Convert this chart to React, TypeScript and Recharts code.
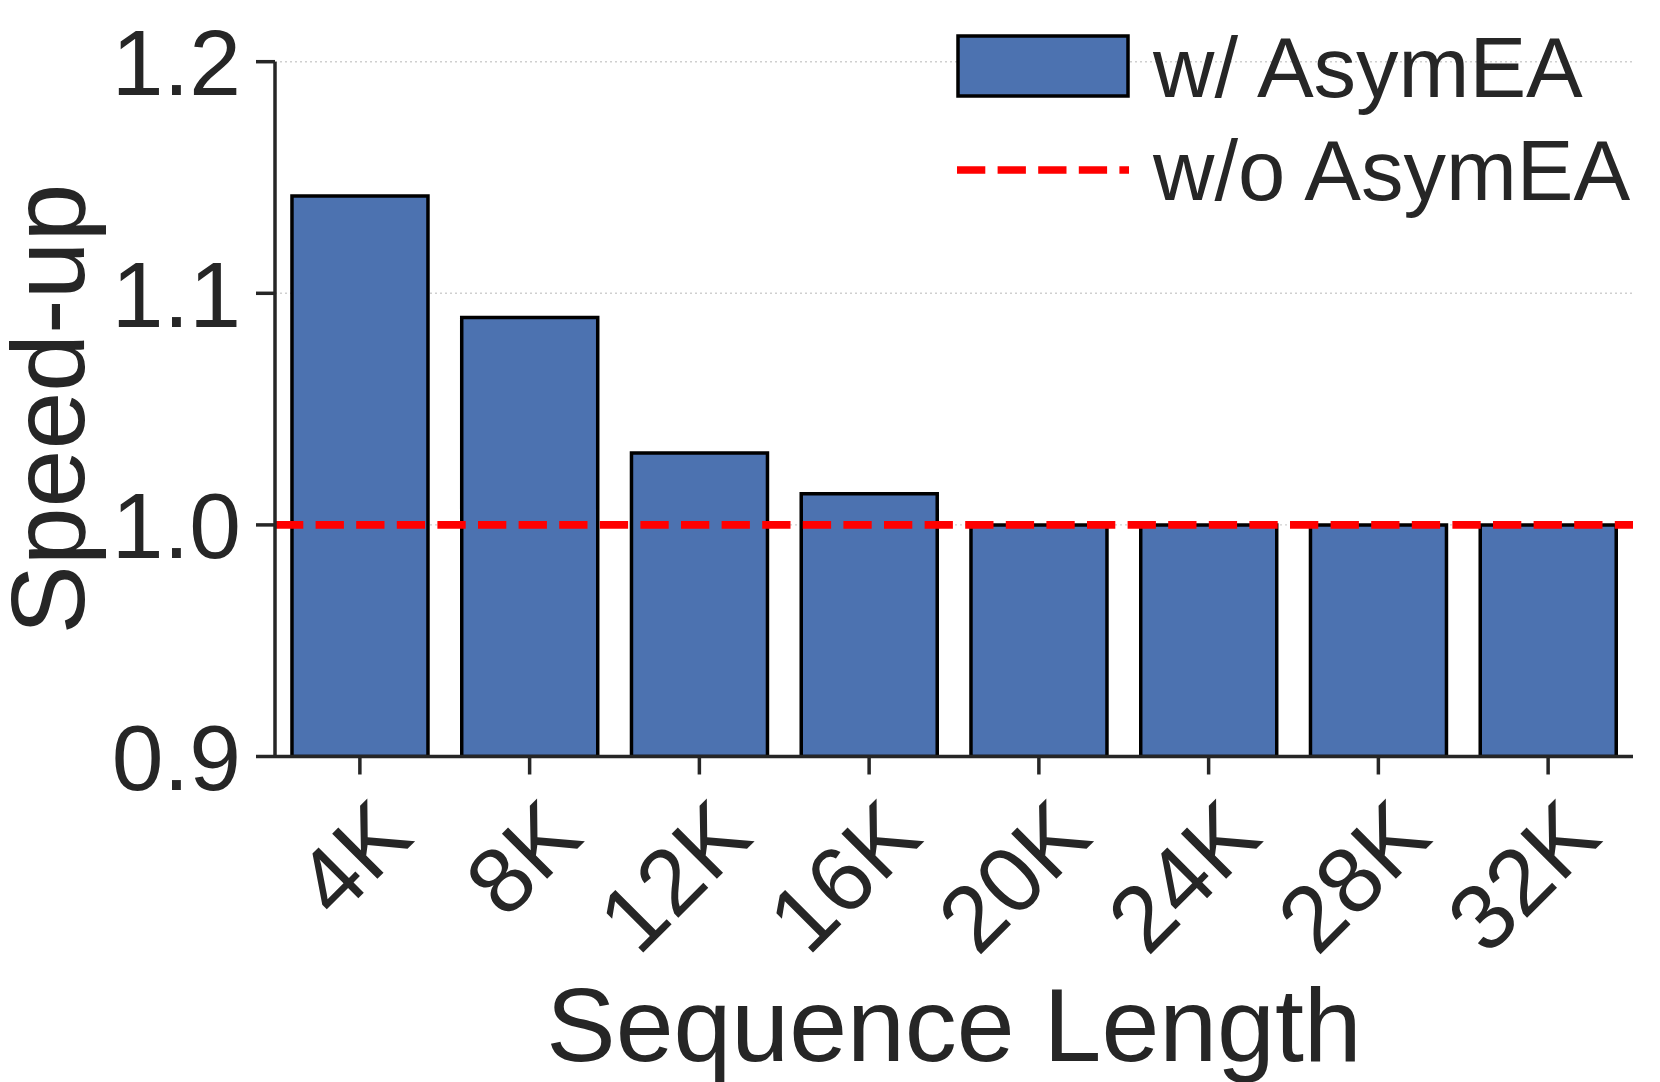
import React from "react";
import { BarChart, Bar, XAxis, YAxis, CartesianGrid, ReferenceLine } from "recharts";

// values
const categories = ["4K", "8K", "12K", "16K", "20K", "24K", "28K", "32K"];
const speedupWith = [1.142, 1.0896, 1.031, 1.0134, 1.0, 1.0, 1.0, 1.0];
const speedupWithout = 1.0;
const yTicks = [0.9, 1.0, 1.1, 1.2];
const seriesNames = ["w/ AsymEA", "w/o AsymEA"];

const data = categories.map((name, i) => ({ name, value: speedupWith[i] }));

const FONT = 'Arial, "Liberation Sans", Helvetica, sans-serif';
const INK = "#262626";
const BLUE = "#4c72b0";

const XTick = ({ x, y, payload }: any) => {
  const ax = x + 56;
  const ay = y + 66;
  return (
    <text
      x={ax}
      y={ay}
      textAnchor="end"
      transform={`rotate(-45, ${ax}, ${ay})`}
      fontFamily={FONT}
      fontSize={93}
      fill={INK}
    >
      {payload.value}
    </text>
  );
};

const YTick = ({ x, y, payload }: any) => (
  <text
    x={x}
    y={y}
    dy="0.36em"
    textAnchor="end"
    fontFamily={FONT}
    fontSize={93}
    fill={INK}
  >
    {Number(payload.value).toFixed(1)}
  </text>
);

const Legend = () => (
  <svg
    width={1660}
    height={1082}
    style={{ position: "absolute", left: 0, top: 0, pointerEvents: "none" }}
  >
    <rect x={958} y={36} width={170} height={60} fill={BLUE} stroke="#000" strokeWidth={3.5} />
    <text x={1153} y={97} fontFamily={FONT} fontSize={85} fill={INK}>
      {seriesNames[0]}
    </text>
    <line
      x1={957}
      x2={1129}
      y1={170}
      y2={170}
      stroke="#ff0000"
      strokeWidth={7.7}
      strokeDasharray="28.3 12.3"
    />
    <text x={1153} y={200} fontFamily={FONT} fontSize={85} fill={INK}>
      {seriesNames[1]}
    </text>
  </svg>
);

const App = () => {
  return (
    <div style={{ position: "absolute", left: 0, top: 0, width: 1660, height: 1082, background: "#fff" }}>
      <BarChart
        width={1660}
        height={1082}
        data={data}
        margin={{ top: 61.7, right: 27, bottom: 0, left: 0 }}
        barCategoryGap="10%"
      >
        <CartesianGrid
          vertical={false}
          stroke="#cfcfcf"
          strokeWidth={1.4}
          strokeDasharray="2 3"
        />
        <XAxis
          dataKey="name"
          height={325.5}
          tickSize={18}
          tickMargin={0}
          axisLine={{ stroke: INK, strokeWidth: 3.5 }}
          tickLine={{ stroke: INK, strokeWidth: 3.5 }}
          tick={<XTick />}
          interval={0}
          label={({ viewBox }: any) => (
            <text
              x={viewBox.x + viewBox.width / 2}
              y={viewBox.y + 304}
              textAnchor="middle"
              fontFamily={FONT}
              fontSize={104}
              fill={INK}
            >
              Sequence Length
            </text>
          )}
        />
        <YAxis
          width={275}
          domain={[0.9, 1.2]}
          ticks={yTicks}
          allowDataOverflow
          tickSize={19}
          tickMargin={15}
          axisLine={{ stroke: INK, strokeWidth: 3.5 }}
          tickLine={{ stroke: INK, strokeWidth: 3.5 }}
          tick={<YTick />}
          label={({ viewBox }: any) => {
            const lx = 84;
            const ly = viewBox.y + viewBox.height / 2;
            return (
              <text
                x={lx}
                y={ly}
                textAnchor="middle"
                transform={`rotate(-90, ${lx}, ${ly})`}
                fontFamily={FONT}
                fontSize={104}
                fill={INK}
              >
                Speed-up
              </text>
            );
          }}
        />
        <Bar
          dataKey="value"
          name={seriesNames[0]}
          fill={BLUE}
          stroke="#000"
          strokeWidth={3.5}
          isAnimationActive={false}
        />
        <ReferenceLine
          y={speedupWithout}
          stroke="#ff0000"
          strokeWidth={7.7}
          strokeDasharray="28.3 12.3"
        />
      </BarChart>
      <Legend />
    </div>
  );
};

export default App;
